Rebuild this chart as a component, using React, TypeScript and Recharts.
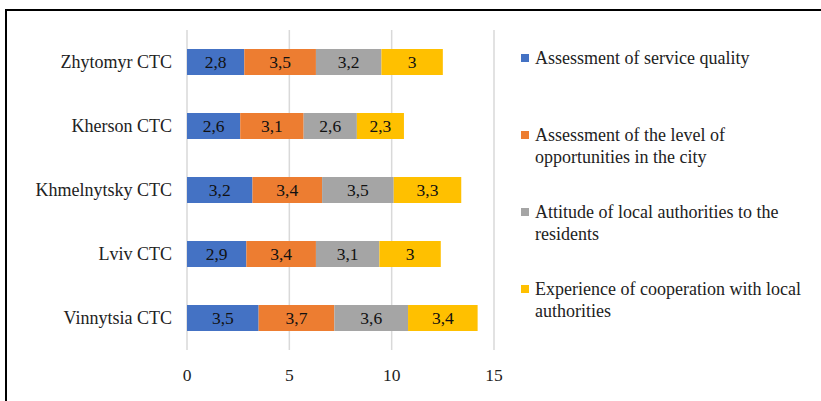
import { BarChart, Bar, XAxis, YAxis, CartesianGrid, LabelList } from "recharts";

const cities = ["Zhytomyr CTC", "Kherson CTC", "Khmelnytsky CTC", "Lviv CTC", "Vinnytsia CTC"];
const serviceQuality = [2.8, 2.6, 3.2, 2.9, 3.5];
const opportunities = [3.5, 3.1, 3.4, 3.4, 3.7];
const attitude = [3.2, 2.6, 3.5, 3.1, 3.6];
const cooperation = [3, 2.3, 3.3, 3, 3.4];
const xTicks = [0, 5, 10, 15];

const seriesNames = [
  "Assessment of service quality",
  "Assessment of the level of opportunities in the city",
  " Attitude of local authorities to the residents",
  "Experience of cooperation with local authorities",
];
const colors = ["#4472C4", "#ED7D31", "#A5A5A5", "#FFC000"];
const keys = ["s1", "s2", "s3", "s4"];

const data = cities.map((name, i) => ({
  name,
  s1: serviceQuality[i],
  s2: opportunities[i],
  s3: attitude[i],
  s4: cooperation[i],
}));

const font = "Liberation Serif, Tinos, DejaVu Serif, serif";
const fmt = (v: any) => String(v).replace(".", ",");

export default function App() {
  return (
    <div
      style={{
        position: "absolute",
        left: 0,
        top: 0,
        width: 821,
        height: 401,
        background: "#fff",
        fontFamily: font,
        overflow: "hidden",
      }}
    >
      <div style={{ position: "absolute", left: 5, top: 9, width: 816, height: 2, background: "#000" }} />
      <div style={{ position: "absolute", left: 5, top: 9, width: 2, height: 392, background: "#000" }} />
      <BarChart
        width={821}
        height={401}
        data={data}
        layout="vertical"
        margin={{ top: 30, right: 327, bottom: 0, left: 0 }}
        barSize={26}
        style={{ fontFamily: font }}
      >
        <CartesianGrid horizontal={false} stroke="#d9d9d9" strokeWidth={1.5} />
        <XAxis
          type="number"
          domain={[0, 15]}
          ticks={xTicks}
          height={51}
          axisLine={false}
          tickLine={false}
          tickSize={0}
          tickMargin={19}
          tick={{ fontSize: 17.5, fill: "#222", fontFamily: font }}
        />
        <YAxis
          type="category"
          dataKey="name"
          width={187}
          axisLine={false}
          tickLine={false}
          tickSize={0}
          tickMargin={15}
          tick={{ fontSize: 18, fill: "#222", fontFamily: font }}
        />
        {keys.map((k, i) => (
          <Bar key={k} dataKey={k} stackId="a" fill={colors[i]} isAnimationActive={false}>
            <LabelList
              dataKey={k}
              position="center"
              formatter={fmt}
              fontFamily={font}
              fontSize={17.5}
              fill="#111"
            />
          </Bar>
        ))}
      </BarChart>
      {seriesNames.map((n, i) => (
        <div
          key={n}
          style={{
            position: "absolute",
            left: 535,
            top: 47 + i * 77,
            width: 275,
            fontSize: 18,
            lineHeight: "22px",
            color: "#222",
          }}
        >
          <span
            style={{
              position: "absolute",
              left: -14,
              top: 7,
              width: 8,
              height: 8,
              background: colors[i],
            }}
          />
          {n}
        </div>
      ))}
    </div>
  );
}
